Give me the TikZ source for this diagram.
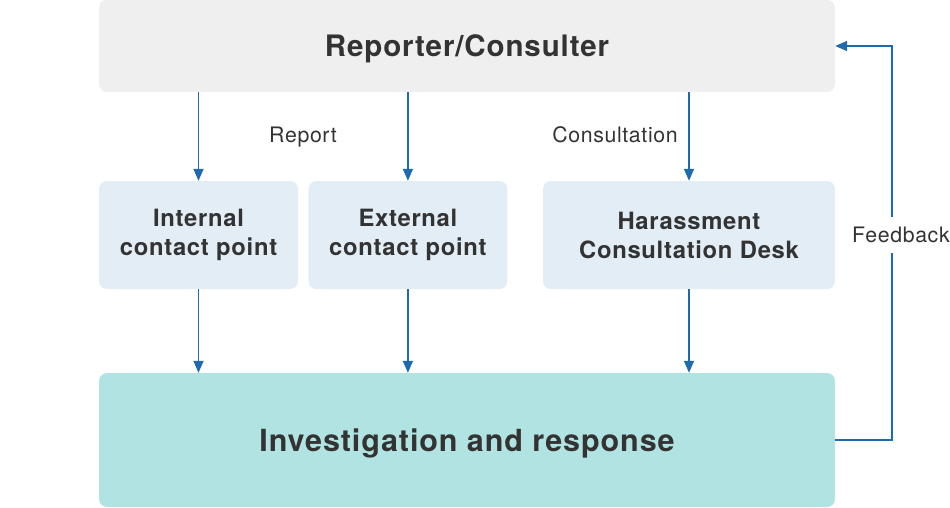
\documentclass[tikz,border=0pt]{standalone}
\usepackage{fontspec}
\setmainfont{TeX Gyre Heros}[LetterSpace=3]
\usetikzlibrary{positioning,arrows.meta}
\definecolor{topcolor}{RGB}{239,239,239}
\definecolor{pointcolor}{RGB}{226,237,246}
\definecolor{actcolor}{RGB}{177,227,226}
\definecolor{linkcolor}{RGB}{29,106,174}
\definecolor{textcolor}{RGB}{51,51,51}

\begin{document}
\begin{tikzpicture}[
    x=1pt, y=-1pt,
    box/.style={rectangle, rounded corners=8pt, draw=none, align=center,
        text=textcolor, font=\bfseries},
    flow/.style={draw=linkcolor, line width=1.5pt,
        -{Triangle[length=12pt,width=10pt]}},
    label/.style={text=textcolor, font=\fontsize{21.3}{25}\selectfont}
    ]

\useasboundingbox (0,0) rectangle (950,508);

\node[box, fill=topcolor, minimum width=736pt, minimum height=92pt, text depth=0pt,
    font=\bfseries\fontsize{29.5}{34}\selectfont] (reporter) at (467,46) {Reporter/Consulter};

\node[box, fill=pointcolor, minimum width=199pt, minimum height=108pt,
    font=\bfseries\fontsize{23.8}{29}\selectfont] (internal) at (198.5,235) {Internal\\contact point};
\node[box, fill=pointcolor, minimum width=199pt, minimum height=108pt,
    font=\bfseries\fontsize{23.8}{29}\selectfont] (external) [right=10pt of internal] {External\\contact point};
\node[box, fill=pointcolor, minimum width=292pt, minimum height=108pt,
    font=\bfseries\fontsize{23.8}{29}\selectfont] (desk) at (689,235) {Harassment\\Consultation Desk};

\node[box, fill=actcolor, minimum width=736pt, minimum height=134pt, text depth=0pt,
    font=\bfseries\fontsize{30.5}{36}\selectfont] (investigation) at (467,440) {Investigation and response};

\draw[flow] (internal.north |- reporter.south) -- (internal.north);
\draw[flow] (external.north |- reporter.south) -- (external.north);
\draw[flow] (desk.north |- reporter.south) -- (desk.north);

\draw[flow] (internal.south) -- (internal.south |- investigation.north);
\draw[flow] (external.south) -- (external.south |- investigation.north);
\draw[flow] (desk.south) -- (desk.south |- investigation.north);

\node[label, text depth=0pt] (report) at (303,135) {Report};
\node[label] (consult) at (615,135) {Consultation};

\coordinate (turn) at (892,440);
\draw[flow] (investigation.east) -- (turn) |- (reporter.east);
\node[label, fill=white, inner xsep=0pt, inner ysep=10pt, anchor=west] (feedback) at (852,235) {Feedback};

\end{tikzpicture}
\end{document}
